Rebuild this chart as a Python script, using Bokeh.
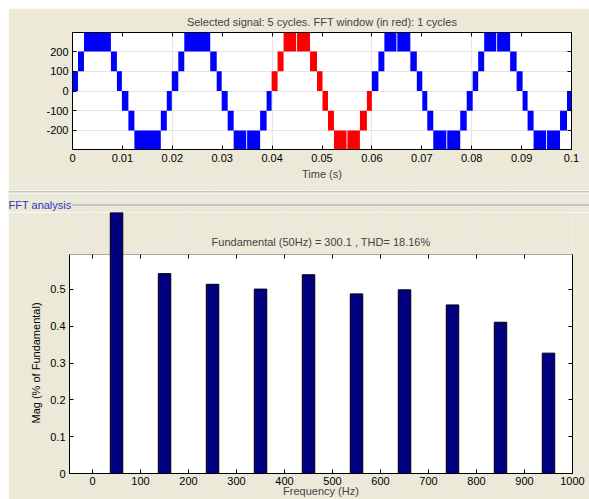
import math
from bokeh.plotting import figure
from bokeh.layouts import column
from bokeh.models import FixedTicker, LinearAxis, Range1d, BoxAnnotation, Label, ColumnDataSource, Title
from bokeh.embed import file_html
from bokeh.resources import INLINE
from bokeh.core.properties import value

BG = "#ECE9D8"
FONT = "Liberation Sans"

# ---------------- data: selected signal (multilevel PWM bands) ----------------
sig_edges = [0.0000, 0.0011, 0.0023, 0.0077, 0.0089, 0.0099, 0.0112, 0.0124, 0.0177, 0.0189, 0.0199,
             0.0212, 0.0224, 0.0276, 0.0289, 0.0299, 0.0311, 0.0323, 0.0376, 0.0389, 0.0399,
             0.0411, 0.0423, 0.0476, 0.0490, 0.0501, 0.0512, 0.0524, 0.0576, 0.0590, 0.0600,
             0.0613, 0.0625, 0.0677, 0.0690, 0.0701, 0.0711, 0.0723, 0.0777, 0.0790, 0.0802,
             0.0813, 0.0825, 0.0877, 0.0890, 0.0902, 0.0912, 0.0924, 0.0977, 0.0991, 0.1000]
sig_levels = [0, 100, 200, 100, 0, -100, -200, -300, -200, -100,
              0, 100, 200, 100, 0, -100, -200, -300, -200, -100,
              0, 100, 200, 100, 0, -100, -200, -300, -200, -100,
              0, 100, 200, 100, 0, -100, -200, -300, -200, -100,
              0, 100, 200, 100, 0, -100, -200, -300, -200, -100]
band_height = 100
fft_window = [0.04, 0.06]
gap_times = [0.0349, 0.0449, 0.0550, 0.0650, 0.0750, 0.0850, 0.0950]
gap_levels = [-300, 200, -300, 200, -300, 200, -300]
time_ticks = [0, 0.01, 0.02, 0.03, 0.04, 0.05, 0.06, 0.07, 0.08, 0.09, 0.1]
time_tick_labels = ["0", "0.01", "0.02", "0.03", "0.04", "0.05", "0.06", "0.07", "0.08", "0.09", "0.1"]
sig_ticks = [-200, -100, 0, 100, 200]
sig_tick_labels = ["-200", "-100", "0", "100", "200"]
sig_limits = [-297, 297]

# ---------------- data: FFT ----------------
freqs = [0, 50, 100, 150, 200, 250, 300, 350, 400, 450, 500, 550, 600, 650, 700, 750, 800, 850, 900, 950]
mags = [0, 100, 0, 0.543, 0, 0.514, 0, 0.501, 0, 0.540, 0, 0.488, 0, 0.499, 0, 0.458, 0, 0.411, 0, 0.327]
freq_ticks = [0, 100, 200, 300, 400, 500, 600, 700, 800, 900, 1000]
freq_tick_labels = ["0", "100", "200", "300", "400", "500", "600", "700", "800", "900", "1000"]
mag_ticks = [0, 0.1, 0.2, 0.3, 0.4, 0.5]
mag_tick_labels = ["0", "0.1", "0.2", "0.3", "0.4", "0.5"]
mag_axis_top = 0.595
freq_limits = [-48, 1000]

W = 581


def style_axis(ax, ticks, labels, show=True):
    ax.ticker = FixedTicker(ticks=ticks)
    ax.major_label_overrides = {t: l for t, l in zip(ticks, labels)}
    ax.major_tick_in = 4
    ax.major_tick_out = 0
    ax.minor_tick_line_color = None
    ax.axis_line_color = "black"
    ax.major_tick_line_color = "black"
    ax.major_label_text_font = FONT
    if show:
        ax.major_label_text_font_size = "11px"
        ax.major_label_text_color = "black"
        ax.major_label_standoff = 4
    else:
        ax.major_label_text_font_size = "1px"
        ax.major_label_text_color = None
        ax.major_label_standoff = 0


# ---------------- top figure ----------------
top = figure(width=W, height=182, x_range=Range1d(0, 0.1), y_range=Range1d(*sig_limits),
             output_backend="svg", toolbar_location=None, frame_align=False,
             min_border_left=64, min_border_right=18, min_border_top=24, min_border_bottom=41,
             background_fill_color="white", border_fill_color=BG, outline_line_color="black",
             x_axis_location=None, y_axis_location=None,
             title="Selected signal: 5 cycles. FFT window (in red): 1 cycles")
top.title.align = "center"
top.title.text_font = FONT
top.title.text_font_size = "11px"
top.title.text_font_style = "normal"
top.title.standoff = 10

lefts = sig_edges[:-1]
rights = sig_edges[1:]
colors = ["#FF0000" if fft_window[0] <= (l + r) / 2 <= fft_window[1] else "#0000FF" for l, r in zip(lefts, rights)]
src = ColumnDataSource(dict(left=lefts, right=rights, bottom=sig_levels,
                            top=[v + band_height for v in sig_levels], color=colors))
top.quad(left="left", right="right", bottom="bottom", top="top", fill_color="color",
         line_color=None, source=src)
top.segment(x0=gap_times, x1=gap_times, y0=gap_levels, y1=[v + band_height for v in gap_levels],
            line_color="#e8e8ff", line_width=1)

ax_b = LinearAxis()
style_axis(ax_b, time_ticks, time_tick_labels)
ax_b.axis_label = "Time (s)"
ax_b.axis_label_text_font = FONT
ax_b.axis_label_text_font_size = "11px"
ax_b.axis_label_text_font_style = "normal"
ax_b.axis_label_standoff = 3
top.add_layout(ax_b, "below")
ax_l = LinearAxis()
style_axis(ax_l, sig_ticks, sig_tick_labels)
top.add_layout(ax_l, "left")
ax_r = LinearAxis()
style_axis(ax_r, sig_ticks, sig_tick_labels, show=False)
top.add_layout(ax_r, "right")
ax_t = LinearAxis()
style_axis(ax_t, time_ticks, time_tick_labels, show=False)
top.add_layout(ax_t, "above")

# ---------------- separator / group box strip ----------------
sep = figure(width=W, height=22, x_range=Range1d(0, W), y_range=Range1d(0, 22),
             output_backend="svg", toolbar_location=None, min_border=0, frame_align=False,
             background_fill_color=BG, border_fill_color=BG, outline_line_color=None,
             x_axis_location=None, y_axis_location=None)
sep.segment(x0=[0, 0, 64], x1=[W, W, W], y0=[20.5, 19.5, 7.5], y1=[20.5, 19.5, 7.5],
            line_color=["#a0a0a0", "#ffffff", "#a0a0a0"], line_width=1)
sep.text(x=[0], y=[8], text=["FFT analysis"], text_font=value(FONT), text_font_size="11px",
         text_color="#3434b4", text_align="left", text_baseline="middle")

# ---------------- bottom figure ----------------
px_per_unit = (473 - 254) / mag_axis_top
frame_h = 287 - 26
bot = figure(width=W, height=287, x_range=Range1d(*freq_limits), y_range=Range1d(0, frame_h / px_per_unit),
             output_backend="svg", toolbar_location=None, frame_align=False,
             min_border_left=61, min_border_right=17, min_border_top=0, min_border_bottom=26,
             background_fill_color=BG, border_fill_color=BG, outline_line_color=None,
             x_axis_location=None, y_axis_location=None)
bot.add_layout(BoxAnnotation(bottom=0, top=mag_axis_top, fill_color="white", fill_alpha=1,
                             line_color="black", line_width=1, level="underlay"))
bot.vbar(x=freqs, top=mags, bottom=0, width=26, fill_color="#000080", line_color="black", line_width=1)

bx = LinearAxis()
style_axis(bx, freq_ticks, freq_tick_labels)
bx.major_label_standoff = 3
bx.axis_label = "Frequency (Hz)"
bx.axis_label_text_font = FONT
bx.axis_label_text_font_size = "11px"
bx.axis_label_text_font_style = "normal"
bx.axis_label_standoff = -3
bot.add_layout(bx, "below")
by = LinearAxis(bounds=(0, mag_axis_top))
style_axis(by, mag_ticks, mag_tick_labels)
bot.add_layout(by, "left")
byr = LinearAxis(bounds=(0, mag_axis_top))
style_axis(byr, mag_ticks, mag_tick_labels, show=False)
bot.add_layout(byr, "right")
ylab = Title(text="Mag (% of Fundamental)", align="left", offset=50, standoff=12,
             text_font=FONT, text_font_size="11px", text_font_style="normal", text_color="black")
bot.add_layout(ylab, "left")
tick_len = 4 / px_per_unit
bot.segment(x0=freq_ticks, x1=freq_ticks, y0=[mag_axis_top] * len(freq_ticks),
            y1=[mag_axis_top - tick_len] * len(freq_ticks), line_color="black", line_width=1)

xc = (freq_limits[0] + freq_limits[1]) / 2
bot.add_layout(Label(x=xc, y=(473 - 241) / px_per_unit,
                     text="Fundamental (50Hz) = 300.1 , THD= 18.16%",
                     text_font=FONT, text_font_size="11px", text_align="center", text_baseline="middle"))

layout = column(top, sep, bot, spacing=0, margin=(8, 0, 0, 8))
open("out.html", "w").write(file_html(layout, INLINE))
